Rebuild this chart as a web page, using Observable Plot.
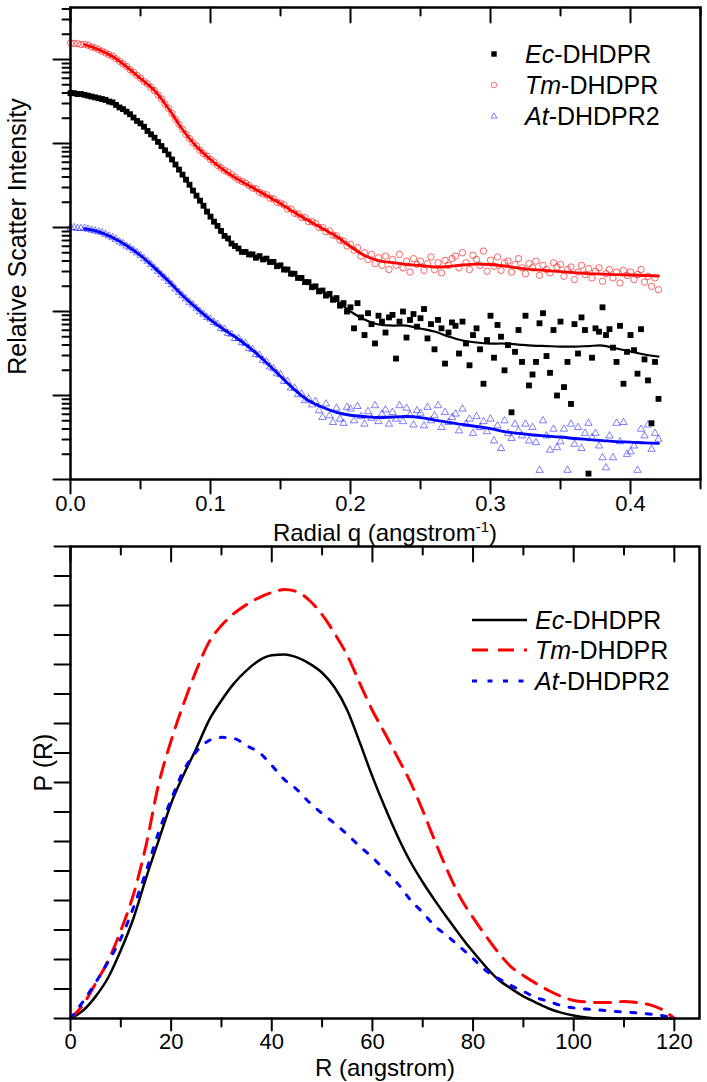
<!DOCTYPE html>
<html>
<head>
<meta charset="utf-8">
<script src="https://cdn.jsdelivr.net/npm/d3@7"></script>
<script src="https://cdn.jsdelivr.net/npm/@observablehq/plot@0.6"></script>
<style>
  body { margin: 0; background: #fff; }
  #wrap { position: relative; width: 707px; height: 1082px; font-family: "Liberation Sans", Arial, sans-serif; background: #fff; }
  #wrap > svg { display: block; }
  .leg { position: absolute; display: flex; align-items: center; height: 31px; font-size: 25px; color: #000; white-space: nowrap; }
  .leg svg { flex: none; display: block; }
</style>
</head>
<body>
<div id="wrap"></div>
<script>
// ---------- DATA: top panel (SAXS scattering, log10 of relative intensity) ----------
const seriesNames = [["Ec", "-DHDPR"], ["Tm", "-DHDPR"], ["At", "-DHDPR2"]];

const qScatter = [
  0, 0.0025, 0.005, 0.0075, 0.01, 0.0125, 0.015, 0.0175, 0.02, 0.0225,
  0.025, 0.0275, 0.03, 0.0325, 0.035, 0.0375, 0.04, 0.0425, 0.045, 0.0475,
  0.05, 0.0525, 0.055, 0.0575, 0.06, 0.0625, 0.065, 0.0675, 0.07, 0.0725,
  0.075, 0.0775, 0.08, 0.0825, 0.085, 0.0875, 0.09, 0.0925, 0.095, 0.0975,
  0.1, 0.1025, 0.105, 0.1075, 0.11, 0.1125, 0.115, 0.1175, 0.12, 0.1225,
  0.125, 0.1275, 0.13, 0.1325, 0.135, 0.1375, 0.14, 0.1425, 0.145, 0.1475,
  0.15, 0.1525, 0.155, 0.1575, 0.16, 0.1625, 0.165, 0.1675, 0.17, 0.1725,
  0.175, 0.1775, 0.18, 0.1825, 0.185, 0.1875, 0.19, 0.1925, 0.195, 0.1975,
  0.2, 0.2025, 0.205, 0.2075, 0.21, 0.2125, 0.215, 0.2175, 0.22, 0.2225,
  0.225, 0.2275, 0.23, 0.2325, 0.235, 0.2375, 0.24, 0.2425, 0.245, 0.2475,
  0.25, 0.2525, 0.255, 0.2575, 0.26, 0.2625, 0.265, 0.2675, 0.27, 0.2725,
  0.275, 0.2775, 0.28, 0.2825, 0.285, 0.2875, 0.29, 0.2925, 0.295, 0.2975,
  0.3, 0.3025, 0.305, 0.3075, 0.31, 0.3125, 0.315, 0.3175, 0.32, 0.3225,
  0.325, 0.3275, 0.33, 0.3325, 0.335, 0.3375, 0.34, 0.3425, 0.345, 0.3475,
  0.35, 0.3525, 0.355, 0.3575, 0.36, 0.3625, 0.365, 0.3675, 0.37, 0.3725,
  0.375, 0.3775, 0.38, 0.3825, 0.385, 0.3875, 0.39, 0.3925, 0.395, 0.3975,
  0.4, 0.4025, 0.405, 0.4075, 0.41, 0.4125, 0.415, 0.4175, 0.42
];

const ecScatterLog = [
  4.60, 4.60, 4.59, 4.59, 4.58, 4.57, 4.56, 4.55, 4.54, 4.53,
  4.52, 4.50, 4.49, 4.46, 4.43, 4.41, 4.38, 4.35, 4.31, 4.27,
  4.24, 4.20, 4.15, 4.11, 4.07, 4.02, 3.97, 3.92, 3.87, 3.81,
  3.75, 3.69, 3.63, 3.57, 3.51, 3.44, 3.38, 3.32, 3.26, 3.19,
  3.13, 3.07, 3.02, 2.96, 2.90, 2.87, 2.81, 2.78, 2.75, 2.71,
  2.71, 2.68, 2.68, 2.64, 2.66, 2.62, 2.63, 2.59, 2.59, 2.54,
  2.55, 2.50, 2.50, 2.45, 2.45, 2.40, 2.40, 2.35, 2.35, 2.29,
  2.30, 2.24, 2.25, 2.19, 2.21, 2.14, 2.16, 2.07, 2.10, 2.00,
  2.05, 1.80, 2.10, 1.93, 1.72, 1.98, 1.85, 1.62, 1.95, 1.88,
  1.75, 1.93, 1.96, 1.44, 1.88, 2.00, 1.69, 1.90, 1.97, 1.82,
  1.92, 2.03, 1.68, 1.85, 1.55, 1.90, 1.80, 1.38, 1.75, 1.87,
  1.83, 1.50, 1.88, 1.62, 1.36, 1.72, 1.80, 1.55, 1.14, 1.66,
  1.95, 1.45, 1.84, 1.70, 1.30, 1.60, 0.80, 1.52, 1.78, 1.40,
  1.95, 1.12, 1.25, 1.40, 1.86, 1.98, 1.47, 1.27, 1.78, 1.00,
  1.88, 1.10, 1.40, 0.90, 1.85, 1.50, 1.93, 1.78, 0.07, 1.45,
  1.80, 1.76, 2.05, 1.72, 1.79, 1.57, 1.40, 1.83, 1.14, 1.52,
  1.72, 1.54, 1.26, 1.79, 1.43, 1.18, 0.67, 1.40, 0.96
];

const tmScatterLog = [
  5.20, 5.19, 5.19, 5.18, 5.18, 5.17, 5.15, 5.14, 5.12, 5.10,
  5.08, 5.06, 5.04, 5.01, 4.98, 4.95, 4.92, 4.88, 4.85, 4.81,
  4.78, 4.74, 4.71, 4.67, 4.63, 4.58, 4.53, 4.47, 4.42, 4.36,
  4.29, 4.23, 4.17, 4.11, 4.06, 4.01, 3.97, 3.92, 3.88, 3.85,
  3.81, 3.78, 3.74, 3.71, 3.68, 3.66, 3.63, 3.60, 3.57, 3.55,
  3.53, 3.50, 3.47, 3.46, 3.42, 3.40, 3.39, 3.35, 3.34, 3.30,
  3.29, 3.27, 3.22, 3.22, 3.17, 3.16, 3.12, 3.12, 3.07, 3.07,
  3.05, 3.00, 3.00, 2.95, 2.96, 2.91, 2.90, 2.85, 2.84, 2.78,
  2.80, 2.73, 2.76, 2.66, 2.70, 2.62, 2.68, 2.57, 2.64, 2.55,
  2.66, 2.50, 2.62, 2.55, 2.68, 2.52, 2.60, 2.47, 2.63, 2.56,
  2.60, 2.49, 2.57, 2.65, 2.50, 2.58, 2.46, 2.61, 2.55, 2.63,
  2.66, 2.52, 2.70, 2.58, 2.50, 2.67, 2.62, 2.55, 2.72, 2.48,
  2.61, 2.54, 2.65, 2.49, 2.58, 2.60, 2.47, 2.56, 2.63, 2.52,
  2.45, 2.57, 2.52, 2.60, 2.43, 2.55, 2.50, 2.46, 2.58, 2.53,
  2.56, 2.42, 2.50, 2.53, 2.38, 2.47, 2.55, 2.44, 2.51, 2.40,
  2.48, 2.52, 2.36, 2.45, 2.50, 2.40, 2.47, 2.34, 2.49, 2.43,
  2.47, 2.38, 2.44, 2.50, 2.35, 2.42, 2.30, 2.40, 2.26
];

const atScatterLog = [
  3.00, 3.00, 2.99, 2.99, 2.99, 2.98, 2.97, 2.96, 2.95, 2.94,
  2.92, 2.90, 2.88, 2.86, 2.83, 2.81, 2.78, 2.76, 2.73, 2.70,
  2.67, 2.63, 2.60, 2.56, 2.52, 2.48, 2.44, 2.40, 2.36, 2.32,
  2.27, 2.23, 2.19, 2.15, 2.11, 2.08, 2.04, 2.00, 1.97, 1.93,
  1.91, 1.87, 1.85, 1.80, 1.79, 1.74, 1.73, 1.68, 1.68, 1.63,
  1.62, 1.56, 1.55, 1.49, 1.48, 1.42, 1.40, 1.34, 1.32, 1.26,
  1.25, 1.17, 1.17, 1.09, 1.09, 1.01, 1.02, 0.94, 0.96, 0.89,
  0.93, 0.82, 0.74, 0.90, 0.76, 0.68, 0.85, 0.72, 0.67, 0.86,
  0.84, 0.70, 0.87, 0.75, 0.66, 0.81, 0.73, 0.88, 0.69, 0.78,
  0.83, 0.66, 0.80, 0.72, 0.88, 0.69, 0.85, 0.77, 0.65, 0.82,
  0.79, 0.64, 0.86, 0.70, 0.76, 0.88, 0.62, 0.80, 0.68, 0.74,
  0.78, 0.58, 0.84, 0.66, 0.72, 0.55, 0.75, 0.62, 0.69, 0.57,
  0.72, 0.46, 0.64, 0.37, 0.70, 0.55, 0.49, 0.66, 0.58, 0.52,
  0.66, 0.46, 0.62, 0.44, 0.11, 0.70, 0.52, 0.35, 0.60, 0.38,
  0.45, 0.60, 0.11, 0.66, 0.42, 0.62, 0.37, 0.55, 0.67, 0.50,
  0.55, 0.40, 0.26, 0.14, 0.52, 0.26, 0.67, 0.45, 0.68, 0.30,
  0.33, 0.40, 0.11, 0.60, 0.52, 0.65, 0.36, 0.55, 0.48
];

// fitted curves (log10 intensity)
const qFit = [
  0.01, 0.02, 0.03, 0.04, 0.05, 0.06, 0.07, 0.08, 0.09, 0.10,
  0.11, 0.12, 0.13, 0.14, 0.15, 0.16, 0.17, 0.18, 0.19, 0.20,
  0.21, 0.22, 0.23, 0.24, 0.25, 0.26, 0.27, 0.28, 0.29, 0.30,
  0.31, 0.32, 0.33, 0.34, 0.35, 0.36, 0.37, 0.38, 0.39, 0.40,
  0.41, 0.42
];
const ecFitLog = [
  4.577, 4.542, 4.488, 4.381, 4.238, 4.071, 3.869, 3.631, 3.381, 3.131,
  2.905, 2.738, 2.667, 2.619, 2.536, 2.440, 2.333, 2.238, 2.131, 2.000,
  1.905, 1.845, 1.833, 1.833, 1.798, 1.762, 1.702, 1.655, 1.631, 1.619,
  1.619, 1.607, 1.595, 1.589, 1.583, 1.583, 1.589, 1.595, 1.560, 1.524,
  1.488, 1.464
];
const tmFitLog = [
  5.179, 5.119, 5.036, 4.917, 4.774, 4.631, 4.417, 4.167, 3.964, 3.810,
  3.679, 3.571, 3.476, 3.381, 3.286, 3.179, 3.083, 2.988, 2.893, 2.774,
  2.667, 2.607, 2.583, 2.560, 2.548, 2.530, 2.536, 2.554, 2.565, 2.560,
  2.542, 2.518, 2.500, 2.488, 2.476, 2.464, 2.452, 2.446, 2.440, 2.435,
  2.429, 2.423
];
const atFitLog = [
  2.988, 2.952, 2.881, 2.786, 2.667, 2.520, 2.360, 2.190, 2.040, 1.900,
  1.780, 1.670, 1.540, 1.390, 1.230, 1.070, 0.940, 0.860, 0.800, 0.765,
  0.750, 0.738, 0.744, 0.750, 0.738, 0.708, 0.679, 0.655, 0.631, 0.607,
  0.571, 0.548, 0.530, 0.518, 0.506, 0.488, 0.476, 0.464, 0.452, 0.446,
  0.435, 0.429
];

// ---------- DATA: bottom panel (pair distance distribution P(R)) ----------
const rValues = [
  0, 2.5, 5, 7.5, 10, 12.5, 15, 17.5, 20, 22.5,
  25, 27.5, 30, 32.5, 35, 37.5, 40, 42.5, 45, 47.5,
  50, 52.5, 55, 57.5, 60, 62.5, 65, 67.5, 70, 72.5,
  75, 77.5, 80, 82.5, 85, 87.5, 90, 92.5, 95, 97.5,
  100, 102.5, 105, 107.5, 110, 112.5, 115, 117.5, 120
];
const ecPR = [
  0, 0.27, 0.75, 1.39, 2.31, 3.39, 4.75, 6.03, 7.29, 8.27,
  9.15, 10.10, 10.78, 11.36, 11.80, 12.14, 12.31, 12.34, 12.24, 12.03,
  11.72, 11.22, 10.45, 9.35, 8.20, 7.15, 6.18, 5.33, 4.62, 3.98,
  3.38, 2.80, 2.26, 1.76, 1.32, 1.02, 0.75, 0.54, 0.34, 0.20,
  0.10, 0.03, 0, 0, 0, 0, 0, 0, 0
];
const tmPR = [
  0, 0.47, 1.19, 1.97, 2.98, 4.20, 5.86, 7.93, 9.42, 10.68,
  11.80, 12.75, 13.32, 13.73, 14.03, 14.27, 14.44, 14.54, 14.47, 14.17,
  13.69, 13.05, 12.31, 11.36, 10.44, 9.66, 8.85, 8.03, 7.05, 5.98,
  4.98, 4.09, 3.42, 2.81, 2.24, 1.76, 1.46, 1.19, 0.95, 0.75,
  0.61, 0.56, 0.54, 0.54, 0.58, 0.54, 0.47, 0.31, 0
];
const atPR = [
  0, 0.58, 1.22, 1.93, 2.71, 3.76, 4.98, 6.31, 7.42, 8.41,
  9.05, 9.42, 9.53, 9.49, 9.25, 9.02, 8.58, 8.10, 7.76, 7.32,
  6.95, 6.61, 6.24, 5.83, 5.46, 5.02, 4.58, 4.03, 3.59, 3.12,
  2.78, 2.41, 2.03, 1.63, 1.36, 1.12, 0.92, 0.71, 0.58, 0.44,
  0.36, 0.32, 0.29, 0.25, 0.22, 0.19, 0.15, 0.10, 0
];

// ---------- ticks ----------
const qMajor = [0, 0.1, 0.2, 0.3, 0.4];
const qMinor = [0.05, 0.15, 0.25, 0.35, 0.45];
const intensityDecades = [1, 10, 100, 1000, 10000, 100000];
const intensityTop = 10 ** 5.62;
const rMajor = [0, 20, 40, 60, 80, 100, 120];
const rMinor = [10, 30, 50, 70, 90, 110];
const prTicks = [0, 1, 2, 3, 4, 5, 6, 7, 8, 9, 10, 11, 12, 13, 14, 15, 16];

const intensityMinor = [];
for (const d of intensityDecades) for (let k = 2; k <= 9; k++) if (d * k <= intensityTop) intensityMinor.push(d * k);

// ---------- build tables ----------
const toTable = (qs, logs) => qs.map((q, i) => ({q, I: 10 ** logs[i]}));
const ecPts = toTable(qScatter, ecScatterLog);
const tmPts = toTable(qScatter, tmScatterLog);
const atPts = toTable(qScatter, atScatterLog);
const ecFit = toTable(qFit, ecFitLog);
const tmFit = toTable(qFit, tmFitLog);
const atFit = toTable(qFit, atFitLog);
const prTable = (vals) => rValues.map((R, i) => ({R, P: vals[i]}));

const FONT = '"Liberation Sans", Arial, sans-serif';
const DOWN = {draw(c, l) { c.moveTo(0, 0); c.lineTo(0, l); }};
const LEFT = {draw(c, l) { c.moveTo(0, 0); c.lineTo(-l, 0); }};
const ticksX = (vals, anchor, len) => Plot.vector(vals, {x: d => d, frameAnchor: anchor, length: len, shape: DOWN, anchor: "start", stroke: "black", strokeWidth: 2});
const ticksY = (vals, len) => Plot.vector(vals, {y: d => d, frameAnchor: "left", length: len, shape: LEFT, anchor: "start", stroke: "black", strokeWidth: 2});

const wrap = document.getElementById("wrap");

// ---------- top panel ----------
const plot1 = Plot.plot({
  width: 707, height: 544,
  marginLeft: 70, marginRight: 7, marginTop: 7, marginBottom: 65,
  x: {domain: [0, 0.45], axis: null},
  y: {type: "log", domain: [1, intensityTop], axis: null},
  style: {fontFamily: FONT, background: "none", overflow: "visible"},
  marks: [
    Plot.dot(atPts, {x: "q", y: "I", symbol: "triangle", r: 2.7, fill: "none", stroke: "#0000ff", strokeOpacity: 0.5, strokeWidth: 1}),
    Plot.dot(tmPts, {x: "q", y: "I", symbol: "circle", r: 3.2, fill: "none", stroke: "#ff0000", strokeOpacity: 0.6, strokeWidth: 1}),
    Plot.dot(ecPts, {x: "q", y: "I", symbol: "square", r: 3.3, fill: "black", stroke: "none"}),
    Plot.line(ecFit, {x: "q", y: "I", stroke: "black", strokeWidth: 2.2, curve: "catmull-rom"}),
    Plot.line(tmFit, {x: "q", y: "I", stroke: "#ff0000", strokeWidth: 2.8, curve: "catmull-rom"}),
    Plot.line(atFit, {x: "q", y: "I", stroke: "#0000ff", strokeWidth: 2.8, curve: "catmull-rom"}),
    Plot.frame({stroke: "black", strokeWidth: 2.5}),
    ticksX(qMajor, "top", 15),
    ticksX(qMinor, "top", 8),
    ticksX(qMajor, "bottom", 14),
    ticksX(qMinor, "bottom", 9),
    ticksY(intensityDecades, 17),
    ticksY(intensityMinor, 8),
    Plot.text(qMajor, {x: d => d, frameAnchor: "bottom", dy: 16, lineAnchor: "top", text: d => d.toFixed(1), fontSize: 22}),
    Plot.text(["Relative Scatter Intensity"], {frameAnchor: "left", rotate: -90, dx: -62, dy: -7, lineAnchor: "top", textAnchor: "middle", text: d => d, fontSize: 25})
  ]
});
wrap.appendChild(plot1);

{
  const xr = plot1.scale("x").range;
  const yr = plot1.scale("y").range;
  const lab = d3.select(plot1).append("text")
    .attr("x", (xr[0] + xr[1]) / 2)
    .attr("y", Math.max(...yr) + 62)
    .attr("text-anchor", "middle")
    .attr("font-size", 24)
    .attr("font-family", FONT)
    .attr("fill", "black");
  lab.append("tspan").text("Radial q (angstrom");
  lab.append("tspan").attr("dy", -9).attr("font-size", 15).text("-1");
  lab.append("tspan").attr("dy", 9).text(")");
}

// ---------- bottom panel ----------
const plot2 = Plot.plot({
  width: 707, height: 538,
  marginLeft: 70, marginRight: 8, marginTop: 2, marginBottom: 64,
  x: {domain: [0, 125], axis: null},
  y: {domain: [0, 16], axis: null},
  style: {fontFamily: FONT, background: "none", overflow: "visible"},
  marks: [
    Plot.line(prTable(ecPR), {x: "R", y: "P", stroke: "black", strokeWidth: 2.5, curve: "monotone-x"}),
    Plot.line(prTable(tmPR), {x: "R", y: "P", stroke: "#ff0000", strokeWidth: 3, strokeDasharray: "16,10", curve: "monotone-x"}),
    Plot.line(prTable(atPR), {x: "R", y: "P", stroke: "#0000ff", strokeWidth: 3, strokeDasharray: "5,10.5", curve: "monotone-x"}),
    Plot.frame({stroke: "black", strokeWidth: 2.5}),
    ticksX(rMajor, "top", 15),
    ticksX(rMinor, "top", 8),
    ticksX(rMajor, "bottom", 12),
    ticksX(rMinor, "bottom", 8),
    ticksY(prTicks, 16),
    Plot.text(rMajor, {x: d => d, frameAnchor: "bottom", dy: 15, lineAnchor: "top", text: d => String(d), fontSize: 22}),
    Plot.text(["R (angstrom)"], {frameAnchor: "bottom", dy: 57, lineAnchor: "bottom", textAnchor: "middle", text: d => d, fontSize: 24}),
    Plot.text(["P (R)"], {frameAnchor: "left", rotate: -90, dx: -36, dy: -20, lineAnchor: "top", textAnchor: "middle", text: d => d, fontSize: 25})
  ]
});
wrap.appendChild(plot2);

// ---------- legends ----------
const markerSwatch = [
  '<rect x="7.3" y="7.3" width="5.4" height="5.4" fill="black"/>',
  '<circle cx="10" cy="10" r="2.8" fill="none" stroke="#ff0000" stroke-opacity="0.55"/>',
  '<path d="M10,6.9L13,12.1L7,12.1Z" fill="none" stroke="#0000ff" stroke-opacity="0.5"/>'
];
const lineSwatch = [
  'stroke="black" stroke-width="2.5"',
  'stroke="#ff0000" stroke-width="3" stroke-dasharray="16,10"',
  'stroke="#0000ff" stroke-width="3" stroke-dasharray="5,10.5"'
];
const topRows = [38.5, 69.5, 100.5];
const botRows = [604.5, 634.5, 665.5];
seriesNames.forEach(([it, rest], i) => {
  const a = document.createElement("div");
  a.className = "leg";
  a.style.left = "484px"; a.style.top = topRows[i] + "px";
  a.innerHTML = `<svg width="20" height="20">${markerSwatch[i]}</svg><span style="margin-left:21px"><i>${it}</i>${rest}</span>`;
  wrap.appendChild(a);
  const b = document.createElement("div");
  b.className = "leg";
  b.style.left = "472px"; b.style.top = botRows[i] + "px";
  b.innerHTML = `<svg width="55" height="10"><line x1="0" y1="5" x2="55" y2="5" ${lineSwatch[i]}/></svg><span style="margin-left:8px"><i>${it}</i>${rest}</span>`;
  wrap.appendChild(b);
});
</script>
</body>
</html>
